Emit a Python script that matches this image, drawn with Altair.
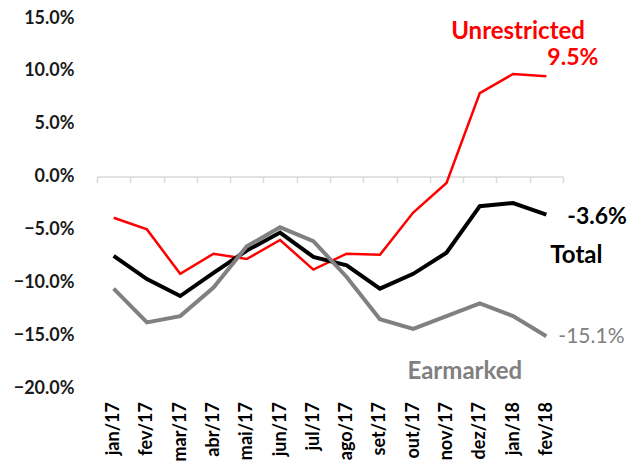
import altair as alt
import pandas as pd

months = ["jan/17", "fev/17", "mar/17", "abr/17", "mai/17", "jun/17", "jul/17",
          "ago/17", "set/17", "out/17", "nov/17", "dez/17", "jan/18", "fev/18"]
unrestricted = [-3.9, -5.0, -9.2, -7.3, -7.8, -6.0, -8.8, -7.3, -7.4, -3.4, -0.6, 7.9, 9.7, 9.5]
total = [-7.5, -9.7, -11.3, -9.1, -7.0, -5.3, -7.6, -8.4, -10.6, -9.2, -7.2, -2.8, -2.5, -3.6]
earmarked = [-10.6, -13.8, -13.2, -10.5, -6.6, -4.8, -6.1, -9.5, -13.5, -14.4, -13.2, -12.0, -13.2, -15.1]
y_ticks = [-20, -15, -10, -5, 0, 5, 10, 15]

# annotations: text, anchor month, anchor value (%)
ann_text = ["Unrestricted", "9.5%", "-3.6%", "Total", "-15.1%", "Earmarked"]
ann_month = ["jan/18", "fev/18", "fev/18", "fev/18", "fev/18", "dez/17"]
ann_value = [13.7, 11.2, -3.8, -7.5, -15.2, -18.5]

FONT = "Lato"
H = 370
W = 466

def series_df(vals):
    return pd.DataFrame({"month": months, "value": [v / 100 for v in vals]})

x_enc = alt.X(
    "month:N", sort=months, bandPosition=0.5,
    scale=alt.Scale(type="band", paddingInner=0, paddingOuter=0, domain=months),
    axis=alt.Axis(title=None, labelAngle=-90, offset=-H * 20 / 35, tickBand="extent",
                  domainColor="#d9d9d9", domainWidth=1.5, tickColor="#d9d9d9",
                  tickSize=6, tickWidth=1.5, labelPadding=219, labelFont=FONT,
                  labelFontSize=18, labelFontWeight="bold", labelColor="black",
                  grid=False),
)
y_enc = alt.Y(
    "value:Q",
    scale=alt.Scale(domain=[-0.20, 0.15], nice=False, zero=False),
    axis=alt.Axis(title=None, values=[v / 100 for v in y_ticks], format=".1%",
                  domain=False, ticks=False, grid=False, labelPadding=23,
                  labelFont=FONT, labelFontSize=18, labelFontWeight="bold",
                  labelColor="#1a1a1a"),
)

def line(vals, color, width):
    return alt.Chart(series_df(vals)).mark_line(color=color, strokeWidth=width,
                                                strokeJoin="miter").encode(x=x_enc, y=y_enc)

layers = [
    line(unrestricted, "#ff0000", 2.5),
    line(total, "#000000", 4),
    line(earmarked, "#808080", 4),
]

ann_style = [
    dict(color="#ff0000", align="center", dx=5, fontWeight="bold", fontSize=24),
    dict(color="#ff0000", align="left", dx=1, fontWeight="bold", fontSize=23),
    dict(color="#000000", align="left", dx=21, fontWeight="bold", fontSize=23),
    dict(color="#000000", align="left", dx=4, fontWeight="bold", fontSize=24),
    dict(color="#808080", align="left", dx=12, fontWeight="normal", fontSize=21),
    dict(color="#808080", align="center", dx=-15, fontWeight="bold", fontSize=24),
]
for t, m, v, st in zip(ann_text, ann_month, ann_value, ann_style):
    df = pd.DataFrame({"month": [m], "value": [v / 100], "label": [t]})
    layers.append(
        alt.Chart(df).mark_text(font=FONT, baseline="middle", **st)
        .encode(x=x_enc, y=y_enc, text="label:N")
    )

chart = alt.layer(*layers).properties(
    width=W, height=H,
    autosize=alt.AutoSizeParams(type="none"),
    padding={"left": 89, "top": 10, "right": 64, "bottom": 73},
).configure_view(stroke=None)

chart.save("out.html", embed_options={"renderer": "svg", "actions": False})
